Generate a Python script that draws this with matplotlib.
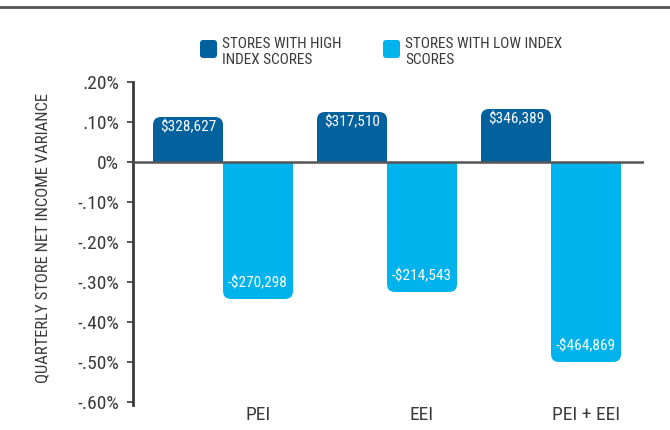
import matplotlib
matplotlib.use('Agg')
import matplotlib.pyplot as plt
import matplotlib.patches as mpatches
from matplotlib import font_manager
from matplotlib.lines import Line2D

# data (values in percent)
categories = ['PEI', 'EEI', 'PEI + EEI']
high_index = [0.1125, 0.125, 0.1325]
low_index = [-0.3425, -0.325, -0.50]
high_labels = ['$328,627', '$317,510', '$346,389']
low_labels = ['-$270,298', '-$214,543', '-$464,869']
yticks = [0.2, 0.1, 0.0, -0.1, -0.2, -0.3, -0.4, -0.5, -0.6]
ytick_labels = ['.20%', '.10%', '0%', '-.10%', '-.20%', '-.30%', '-.40%', '-.50%', '-.60%']

DARK = '#03629e'
LIGHT = '#00b3ec'
GREY = '#3a3a3a'

# look for a condensed sans, the reference uses one
fpath = None
for key in ('robotocondensed', 'liberationsansnarrow', 'opensanscondensed', 'dejavusanscondensed'):
    for f in font_manager.fontManager.ttflist:
        stem = f.fname.replace('-', '').replace('_', '').lower().rsplit('/', 1)[-1]
        if stem.startswith(key) and f.weight in (400, 'normal', 'regular') and f.style == 'normal':
            fpath = f.fname
            break
    if fpath:
        break


def fp(size):
    if fpath:
        return font_manager.FontProperties(fname=fpath, size=size)
    return font_manager.FontProperties(family='Liberation Sans', size=size * 0.9)


fig = plt.figure(figsize=(6.7, 4.3), dpi=100)
ax = fig.add_axes([133 / 670, 25 / 430, 511 / 670, 323 / 430])

w = 0.427
x = list(range(len(categories)))
ax.set_xlim(-0.549, 2.567)
ax.set_ylim(-0.6075, 0.2)

bars_hi = ax.bar([i - w / 2 for i in x], high_index, width=w, color=DARK)
bars_lo = ax.bar([i + w / 2 for i in x], low_index, width=w, color=LIGHT)

# swap plain bars for bars with rounded outer corners
bb = ax.get_window_extent()
px_x = bb.width / (2.567 + 0.549)
px_y = bb.height / 0.8075
radius = 8 / px_x
aspect = px_x / px_y
for bars, col in ((bars_hi, DARK), (bars_lo, LIGHT)):
    for r in bars:
        x0, y0 = r.get_x(), r.get_y()
        bw, bh = r.get_width(), r.get_height()
        r.set_visible(False)
        neg = bh < 0
        if neg:
            y0, bh = y0 + bh, -bh
        ax.add_patch(mpatches.FancyBboxPatch((x0, y0), bw, bh,
                     boxstyle=f'round,pad=0,rounding_size={radius}',
                     mutation_aspect=aspect, fc=col, ec='none', zorder=2))
        # square off the corners sitting on the zero line
        ys = y0 + bh / 2 if neg else y0
        ax.add_patch(mpatches.Rectangle((x0, ys), bw, bh / 2, fc=col, ec='none', zorder=2))

for i in x:
    ax.annotate(high_labels[i].replace('$', r'\$'), (i - w / 2, high_index[i]),
                xytext=(0, -2.5), textcoords='offset points', ha='center', va='top',
                color='white', fontproperties=fp(11), zorder=3)
    ax.annotate(low_labels[i].replace('$', r'\$'), (i + w / 2, low_index[i]),
                xytext=(0, 6.5), textcoords='offset points', ha='center', va='bottom',
                color='white', fontproperties=fp(11), zorder=3)

ax.axhline(0, color='#555555', lw=1.8, zorder=3)

ax.set_yticks(yticks)
ax.set_yticklabels(ytick_labels, fontproperties=fp(14), color=GREY)
ax.set_xticks([i + w / 2 for i in x])
ax.set_xticklabels(categories, fontproperties=fp(14), color=GREY)
ax.tick_params(axis='x', length=0, pad=1)
ax.tick_params(axis='y', length=4, width=1.2, color=GREY, pad=6)
for s in ['top', 'right', 'bottom']:
    ax.spines[s].set_visible(False)
ax.spines['left'].set_color(GREY)
ax.spines['left'].set_linewidth(2)

fig.text(43 / 670, 1 - 238 / 430, 'QUARTERLY STORE NET INCOME VARIANCE',
         rotation=90, ha='center', va='center', fontproperties=fp(12), color=GREY)


# legend, drawn by hand in inches
def legend_item(xpx, col, text):
    box = mpatches.FancyBboxPatch((xpx / 100, (430 - 58) / 100), 0.17, 0.18,
                                  boxstyle='round,pad=0,rounding_size=0.03',
                                  fc=col, ec='none', transform=fig.dpi_scale_trans)
    fig.add_artist(box)
    fig.text((xpx + 22) / 100, (430 - 37) / 100, text, transform=fig.dpi_scale_trans,
             ha='left', va='top', fontproperties=fp(11), color=GREY, linespacing=1.15)


legend_item(200, DARK, 'STORES WITH HIGH\nINDEX SCORES')
legend_item(383, LIGHT, 'STORES WITH LOW INDEX\nSCORES')

# rule across the top of the figure
fig.add_artist(Line2D([0, 1], [1 - 7 / 430, 1 - 7 / 430], color='#555555', lw=2,
                      transform=fig.transFigure))

fig.savefig('out.png', dpi=100)
